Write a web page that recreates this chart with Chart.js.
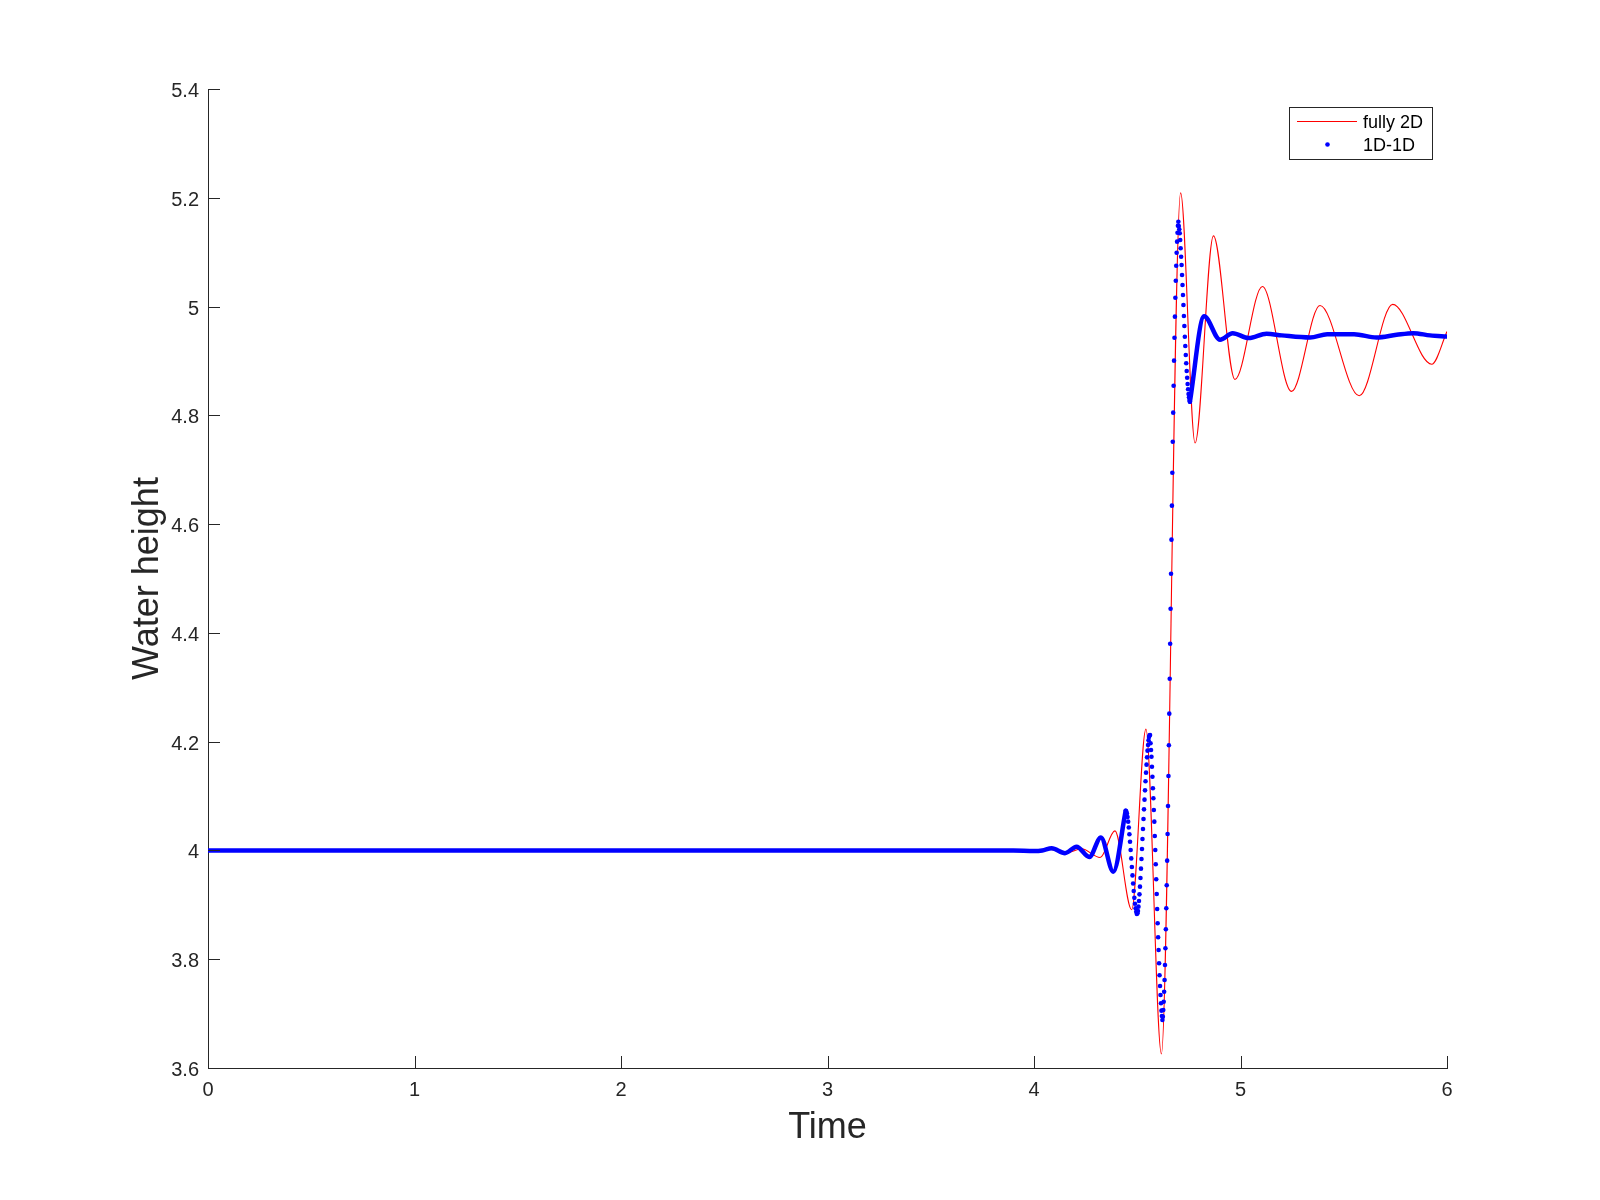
<!DOCTYPE html>
<html><head><meta charset="utf-8">
<script src="https://cdn.jsdelivr.net/npm/chart.js@4/dist/chart.umd.min.js"></script>
<style>html,body{margin:0;padding:0;background:#fff}canvas{display:block}</style>
</head><body>
<canvas id="c" width="1600" height="1200" style="width:1600px;height:1200px"></canvas>
<script>
// ---- data ----
const xTicks = [0, 1, 2, 3, 4, 5, 6];
const yTicks = [3.6, 3.8, 4.0, 4.2, 4.4, 4.6, 4.8, 5.0, 5.2, 5.4];
const seriesNames = ['fully 2D', '1D-1D'];
const xTitle = 'Time';
const yTitle = 'Water height';

// fully 2D (red line)
const redT = [0, 4.0, 4.08, 4.16, 4.23, 4.32, 4.392, 4.473, 4.542, 4.617, 4.71, 4.78, 4.869, 4.973, 5.106, 5.247, 5.385, 5.575, 5.737, 5.926, 6.0];
const redH = [4.0, 4.0, 4.002, 3.996, 4.003, 3.987, 4.036, 3.891, 4.223, 3.626, 5.209, 4.749, 5.130, 4.866, 5.037, 4.844, 5.002, 4.836, 5.004, 4.894, 4.954];

// 1D-1D where samples merge into a thick band (before and after the bore)
const bluePreT = [0, 3.9, 4.0, 4.04, 4.086, 4.15, 4.206, 4.268, 4.324, 4.384, 4.444];
const bluePreH = [4.0, 4.0, 3.999, 4.0, 4.004, 3.995, 4.007, 3.988, 4.024, 3.961, 4.073];
const bluePostT = [4.755, 4.824, 4.901, 4.962, 5.04, 5.126, 5.2, 5.337, 5.42, 5.55, 5.659, 5.756, 5.837, 5.918, 6.0];
const bluePostH = [4.825, 4.982, 4.939, 4.951, 4.942, 4.950, 4.947, 4.943, 4.949, 4.949, 4.943, 4.948, 4.951, 4.947, 4.945];

// 1D-1D individual samples visible during the bore
const dotT = [
  4.444, 4.447, 4.450, 4.453, 4.456, 4.459, 4.462, 4.465, 4.468, 4.471, 4.474, 4.477, 4.480, 4.483, 4.486, 4.489, 4.492, 4.495, 4.498,
  4.501, 4.5034, 4.5059, 4.5083, 4.5108, 4.5132, 4.5156, 4.5181, 4.5205, 4.523, 4.5254, 4.5278, 4.5303, 4.5327, 4.5352, 4.5376, 4.54, 4.5425, 4.5449, 4.5474, 4.5498, 4.5522, 4.5547, 4.5571, 4.5596,
  4.562, 4.5643, 4.5666, 4.5689, 4.5712, 4.5735, 4.5758, 4.5781, 4.5804, 4.5827, 4.585, 4.5873, 4.5896, 4.5919, 4.5942, 4.5965, 4.5988, 4.6011, 4.6034, 4.6057, 4.608, 4.6103, 4.6126, 4.6149, 4.6172, 4.6195, 4.6218,
  4.6239, 4.626, 4.6281, 4.6302, 4.6323, 4.6343, 4.6364, 4.6385, 4.6406, 4.6427, 4.6448, 4.6469, 4.649, 4.6511, 4.6532, 4.6552, 4.6573, 4.6594, 4.6615, 4.6636, 4.6657, 4.6678, 4.6699, 4.672, 4.6741, 4.6761, 4.6782, 4.6803, 4.6824, 4.6845, 4.6866, 4.6887, 4.6908, 4.6929, 4.695, 4.697, 4.6991,
  4.7012, 4.7035, 4.7057, 4.708, 4.7102, 4.7125, 4.7147, 4.717, 4.7192, 4.7215, 4.7237, 4.726, 4.7282, 4.7305, 4.7327, 4.735, 4.7372, 4.7395, 4.7417, 4.744, 4.7462, 4.7485, 4.7507, 4.753, 4.7552
];
const dotH = [
  4.073, 4.0717, 4.0678, 4.0615, 4.0529, 4.0422, 4.0297, 4.0159, 4.0009, 3.9854, 3.9696, 3.9541, 3.9391, 3.9253, 3.9128, 3.9021, 3.8935, 3.8872, 3.8833,
  3.8844, 3.8887, 3.8967, 3.9071, 3.9193, 3.9334, 3.9494, 3.9665, 3.9843, 4.0027, 4.0211, 4.0395, 4.0578, 4.0756, 4.0934, 4.1105, 4.1271, 4.143, 4.1577, 4.1712, 4.1835, 4.1939, 4.2025, 4.2086, 4.2117,
  4.2123, 4.197, 4.1847, 4.1724, 4.154, 4.1356, 4.1143, 4.0959, 4.0744, 4.0529, 4.0266, 4.0009, 3.9745, 3.947, 3.9199, 3.8924, 3.8661, 3.8403, 3.817, 3.7925, 3.7705, 3.7508, 3.7343, 3.719, 3.7054, 3.6956, 3.6883,
  3.6944, 3.7067, 3.7219, 3.7403, 3.7618, 3.7894, 3.8201, 3.855, 3.8936, 3.9359, 3.9812, 4.0303, 4.0817, 4.1369, 4.1933, 4.2515, 4.3158, 4.3801, 4.4445, 4.5088, 4.5714, 4.6339, 4.6945, 4.7515, 4.8049, 4.8545, 4.9005, 4.9427, 4.9814, 5.0163, 5.0475, 5.0751, 5.099, 5.1193, 5.1358, 5.1487, 5.156,
  5.1481, 5.142, 5.1347, 5.1224, 5.1071, 5.0917, 5.0764, 5.058, 5.0396, 5.0213, 5.0029, 4.9826, 4.9643, 4.9446, 4.9275, 4.9109, 4.8957, 4.8815, 4.8692, 4.8576, 4.8479, 4.8392, 4.8332, 4.8282, 4.8251
];

// ---- styling ----
const FONT = '"Liberation Sans", Arial, Helvetica, sans-serif';
const AXIS = '#262626';
const RED = '#ff0000';
const BLUE = '#0000ff';
const pts = (T, H) => T.map((t, i) => ({x: t, y: H[i]}));

const decor = {
  id: 'decor',
  afterDraw(chart) {
    const {ctx, chartArea: a, scales: {x, y}} = chart;
    ctx.save();
    ctx.strokeStyle = AXIS; ctx.lineWidth = 1;
    ctx.beginPath();
    xTicks.forEach(v => { const p = Math.round(x.getPixelForValue(v)) + 0.5; ctx.moveTo(p, a.bottom); ctx.lineTo(p, a.bottom - 12); });
    yTicks.forEach(v => { const p = Math.round(y.getPixelForValue(v)) + 0.5; ctx.moveTo(a.left, p); ctx.lineTo(a.left + 12, p); });
    ctx.stroke();
    // legend box
    const bx = 1289.5, by = 107.5, bw = 143, bh = 52;
    ctx.fillStyle = '#fff'; ctx.fillRect(bx, by, bw, bh);
    ctx.strokeStyle = AXIS; ctx.strokeRect(bx, by, bw, bh);
    ctx.strokeStyle = RED; ctx.lineWidth = 1;
    ctx.beginPath(); ctx.moveTo(1297, 121.5); ctx.lineTo(1357, 121.5); ctx.stroke();
    ctx.fillStyle = BLUE; ctx.beginPath(); ctx.arc(1327.5, 144.5, 2.3, 0, Math.PI * 2); ctx.fill();
    ctx.fillStyle = '#000'; ctx.font = '18px ' + FONT; ctx.textBaseline = 'middle'; ctx.textAlign = 'left';
    ctx.fillText(seriesNames[0], 1363, 123);
    ctx.fillText(seriesNames[1], 1363, 146);
    ctx.restore();
  }
};

new Chart(document.getElementById('c'), {
  type: 'scatter',
  data: {
    datasets: [
      {label: seriesNames[0], data: pts(redT, redH), showLine: true, borderColor: RED, borderWidth: 1.1,
       pointRadius: 0, cubicInterpolationMode: 'monotone', order: 3},
      {label: '', data: pts(bluePreT, bluePreH), showLine: true, borderColor: BLUE, borderWidth: 4.5,
       borderCapStyle: 'round', pointRadius: 0, cubicInterpolationMode: 'monotone', order: 2},
      {label: '', data: pts(bluePostT, bluePostH), showLine: true, borderColor: BLUE, borderWidth: 4.5,
       borderCapStyle: 'round', pointRadius: 0, cubicInterpolationMode: 'monotone', order: 2},
      {label: seriesNames[1], data: pts(dotT, dotH), showLine: false, pointRadius: 2.3, pointBorderWidth: 0,
       pointBackgroundColor: BLUE, backgroundColor: BLUE, borderColor: BLUE, order: 1}
    ]
  },
  options: {
    responsive: false, animation: false, devicePixelRatio: 1,
    layout: {padding: {left: 0, top: 89, right: 153, bottom: 0}},
    plugins: {legend: {display: false}, tooltip: {enabled: false}},
    scales: {
      x: {
        type: 'linear', min: 0, max: 6,
        afterBuildTicks: s => { s.ticks = xTicks.map(v => ({value: v})); },
        afterFit: s => { s.height = 132; },
        grid: {display: false, drawTicks: false, tickLength: 0},
        border: {display: true, color: AXIS, width: 1},
        ticks: {color: AXIS, font: {family: FONT, size: 20}, padding: 10, maxRotation: 0, autoSkip: false,
                callback: v => String(v)},
        title: {display: true, text: xTitle, color: AXIS, font: {family: FONT, size: 36, lineHeight: 1.2},
                padding: {top: 0, bottom: 50}}
      },
      y: {
        type: 'linear', min: 3.6, max: 5.4,
        afterBuildTicks: s => { s.ticks = yTicks.map(v => ({value: v})); },
        afterFit: s => { s.width = 208; },
        grid: {display: false, drawTicks: false, tickLength: 0},
        border: {display: true, color: AXIS, width: 1},
        ticks: {color: AXIS, font: {family: FONT, size: 20}, padding: 9, autoSkip: false, labelOffset: 2.5,
                callback: v => String(Math.round(v * 10) / 10)},
        title: {display: true, text: yTitle, color: AXIS, font: {family: FONT, size: 36, lineHeight: 1.2},
                padding: {top: 126, bottom: 0}}
      }
    }
  },
  plugins: [decor]
});
</script>
</body></html>
